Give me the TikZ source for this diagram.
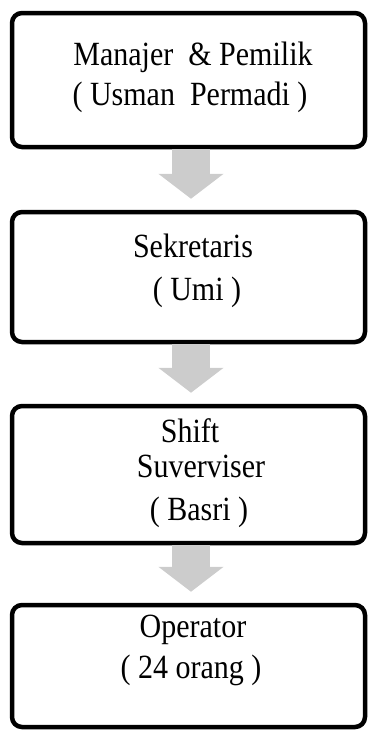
\documentclass[tikz,border=0pt]{standalone}
\usepackage{fontspec}
\setmainfont{Liberation Serif}
\usetikzlibrary{arrows.meta}
\newcommand{\tall}[1]{\scalebox{1}[1.13]{#1}}
\tikzset{
  orgbox/.style={draw=black, line width=4.5pt, rounded corners=10pt, minimum width=353pt, inner sep=0pt},
  lbl/.style={anchor=base, inner sep=0pt, font=\fontsize{30}{34}\selectfont},
  flow/.style={draw=gray!40, line width=38pt, shorten >=11pt,
    -{Triangle[length=25pt, width=64pt, fill=gray!40]}}
}
\begin{document}
\begin{tikzpicture}[x=1pt,y=1pt]
\useasboundingbox (0,0) rectangle (368,-732);
\node[orgbox, minimum height=134pt] (b1) at (188.5,-80) {};
\node[orgbox, minimum height=130pt] (b2) at (188.5,-277) {};
\node[orgbox, minimum height=137pt] (b3) at (188.5,-474.5) {};
\node[orgbox, minimum height=122pt] (b4) at (188.5,-666) {};

\node[lbl] (t1a) at (193,-65) {\tall{Manajer\ \ \& Pemilik}};
\node[lbl] (t1b) at (190,-105) {\tall{( Usman\ \ Permadi )}};
\node[lbl] (t2a) at (193,-257) {\tall{Sekretaris}};
\node[lbl] (t2b) at (197,-300) {\tall{( Umi )}};
\node[lbl] (t3a) at (190,-442) {\tall{Shift}};
\node[lbl] (t3b) at (201,-477) {\tall{Suverviser}};
\node[lbl] (t3c) at (199,-520) {\tall{( Basri )}};
\node[lbl] (t4a) at (193,-637) {\tall{Operator}};
\node[lbl] (t4b) at (191,-678) {\tall{( 24 orang )}};

\draw[flow] ([xshift=2.5pt]b1.south) -- ([xshift=2.5pt]b2.north);
\draw[flow] ([xshift=2.5pt]b2.south) -- ([xshift=2.5pt]b3.north);
\draw[flow] ([xshift=2.5pt]b3.south) -- ([xshift=2.5pt]b4.north);
\end{tikzpicture}
\end{document}
